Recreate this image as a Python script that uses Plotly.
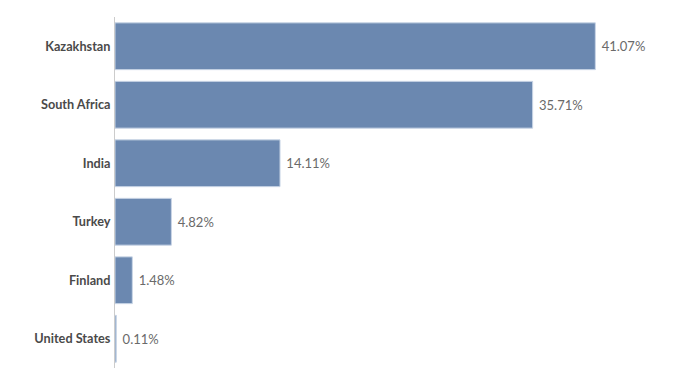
import plotly.graph_objects as go

countries = ["Kazakhstan", "South Africa", "India", "Turkey", "Finland", "United States"]
shares = [41.07, 35.71, 14.11, 4.82, 1.48, 0.11]
labels = [f"\u00a0{v:.2f}%" for v in shares]

fig = go.Figure(go.Bar(
    x=shares, y=countries, orientation="h",
    marker=dict(color="#6b88b0", line=dict(color="#c9d5e6", width=1)),
    text=labels, textposition="outside", cliponaxis=False,
    textfont=dict(family="Lato", size=13, color="#6a6a6a"),
    hoverinfo="skip",
))

fig.update_layout(
    width=680, height=383,
    margin=dict(l=115, r=27, t=17, b=15),
    paper_bgcolor="white", plot_bgcolor="white",
    showlegend=False, bargap=0.2,
    font=dict(family="Lato", size=12, color="#444444"),
)
fig.update_xaxes(range=[0, 46], visible=False, showgrid=False, zeroline=False)
fig.update_yaxes(
    autorange="reversed", showline=True, linecolor="#cccccc", linewidth=1,
    ticks="", ticklabelstandoff=1, showgrid=False,
    tickfont=dict(family="Lato", size=12.7, color="#4a4a4a", weight="bold"),
)

fig.write_html("out.html")
